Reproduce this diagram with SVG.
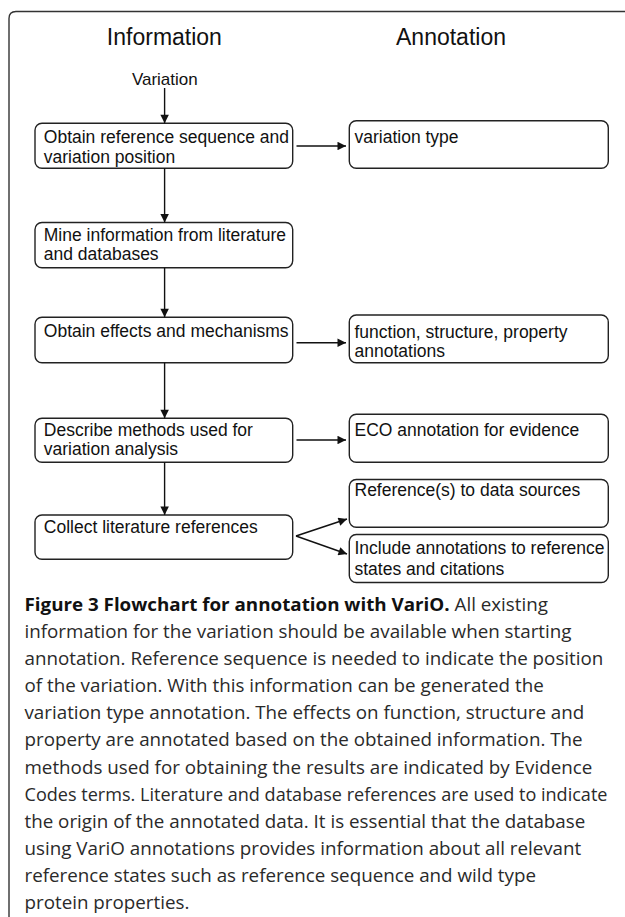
<svg xmlns="http://www.w3.org/2000/svg" width="625" height="917" viewBox="0 0 625 917">
<style>
.frame{fill:none;stroke:#333;stroke-width:1.4}
.box{fill:#fff;stroke:#222;stroke-width:1.4}
.t{font-family:"Liberation Sans",Arial,sans-serif;font-size:17.5px;fill:#111}
.h{font-family:"Liberation Sans",Arial,sans-serif;font-size:23px;fill:#111}
.c{font-family:"Open Sans","Noto Sans",sans-serif;font-size:17.5px;fill:#2a2a2a}
.cb{font-weight:bold;fill:#111}
.conn line{stroke:#111;stroke-width:1.4;fill:none}
</style>
<defs>
<marker id="ah" viewBox="0 0 10 10" refX="10" refY="5" markerWidth="10" markerHeight="8.5" markerUnits="userSpaceOnUse" orient="auto">
<path d="M0,0 L10,5 L0,10 z" fill="#111"/>
</marker>
</defs>
<path class="frame" d="M9,917 V18.5 Q9,11.5 16,11.5 H625"/>
<text class="h" x="164.4" y="45" text-anchor="middle">Information</text>
<text class="h" x="451" y="45" text-anchor="middle">Annotation</text>
<g id="variation"><text class="t" x="164.8" y="85" text-anchor="middle" style="font-size:17px">Variation</text></g>
<g id="n1"><rect class="box" x="35" y="123.3" width="257.7" height="45" rx="7"/>
<text class="t" x="43.8" y="143.3">Obtain reference sequence and</text>
<text class="t" x="43.8" y="162.5">variation position</text></g>
<g id="a1"><rect class="box" x="349.3" y="120.7" width="259" height="47.6" rx="7"/>
<text class="t" x="354.5" y="143.3">variation type</text></g>
<g id="n2"><rect class="box" x="35" y="222.5" width="257.7" height="45.2" rx="7"/>
<text class="t" x="43.8" y="240.5">Mine information from literature</text>
<text class="t" x="43.8" y="260">and databases</text></g>
<g id="n3"><rect class="box" x="35" y="317.3" width="257.7" height="45.4" rx="7"/>
<text class="t" x="43.8" y="337.3">Obtain effects and mechanisms</text></g>
<g id="a2"><rect class="box" x="349.3" y="315" width="259" height="47.7" rx="7"/>
<text class="t" x="354.5" y="338.3">function, structure, property</text>
<text class="t" x="354.5" y="357">annotations</text></g>
<g id="n4"><rect class="box" x="35" y="418.3" width="257.7" height="44" rx="7"/>
<text class="t" x="43.8" y="435.5">Describe methods used for</text>
<text class="t" x="43.8" y="455">variation analysis</text></g>
<g id="a3"><rect class="box" x="349.3" y="414.3" width="259" height="48" rx="7"/>
<text class="t" x="354.5" y="435.5">ECO annotation for evidence</text></g>
<g id="n5"><rect class="box" x="35" y="515" width="257.7" height="44.3" rx="7"/>
<text class="t" x="43.8" y="533.3">Collect literature references</text></g>
<g id="a4"><rect class="box" x="349.3" y="479.5" width="259" height="47.8" rx="7"/>
<text class="t" x="354.5" y="495.5">Reference(s) to data sources</text></g>
<g id="a5"><rect class="box" x="349.3" y="534.5" width="259" height="48" rx="7"/>
<text class="t" x="354.5" y="553.5">Include annotations to reference</text>
<text class="t" x="354.5" y="575">states and citations</text></g>
<g class="conn">
<line x1="164.6" y1="88" x2="164.6" y2="123.3" marker-end="url(#ah)"/>
<line x1="296.5" y1="146" x2="346" y2="146" marker-end="url(#ah)"/>
<line x1="164.6" y1="168.3" x2="164.6" y2="222.5" marker-end="url(#ah)"/>
<line x1="164.6" y1="267.7" x2="164.6" y2="317.3" marker-end="url(#ah)"/>
<line x1="296.5" y1="342.7" x2="346" y2="342.7" marker-end="url(#ah)"/>
<line x1="164.6" y1="362.7" x2="164.6" y2="418.3" marker-end="url(#ah)"/>
<line x1="296.5" y1="440" x2="346" y2="440" marker-end="url(#ah)"/>
<line x1="164.6" y1="462.3" x2="164.6" y2="515" marker-end="url(#ah)"/>
<line x1="296" y1="536" x2="347" y2="519" marker-end="url(#ah)"/>
<line x1="296" y1="536" x2="347" y2="554" marker-end="url(#ah)"/>
</g>
<g id="caption">
<g transform="scale(1.074,1)">
<text class="c" x="22.8" y="611"><tspan class="cb">Figure 3 Flowchart for annotation with VariO.</tspan> All existing</text>
<text class="c" x="22.8" y="638.1">information for the variation should be available when starting</text>
<text class="c" x="22.8" y="665.2">annotation. Reference sequence is needed to indicate the position</text>
<text class="c" x="22.8" y="692.3">of the variation. With this information can be generated the</text>
<text class="c" x="22.8" y="719.4">variation type annotation. The effects on function, structure and</text>
<text class="c" x="22.8" y="746.5">property are annotated based on the obtained information. The</text>
<text class="c" x="22.8" y="773.6">methods used for obtaining the results are indicated by Evidence</text>
<text class="c" x="22.8" y="827.8">the origin of the annotated data. It is essential that the database</text>
<text class="c" x="22.8" y="854.9">using VariO annotations provides information about all relevant</text>
<text class="c" x="22.8" y="882">reference states such as reference sequence and wild type</text>
<text class="c" x="22.8" y="909">protein properties.</text>
</g>
<text class="c" x="24.5" y="800.7" textLength="583" lengthAdjust="spacingAndGlyphs">Codes terms. Literature and database references are used to indicate</text>
</g>
</svg>
